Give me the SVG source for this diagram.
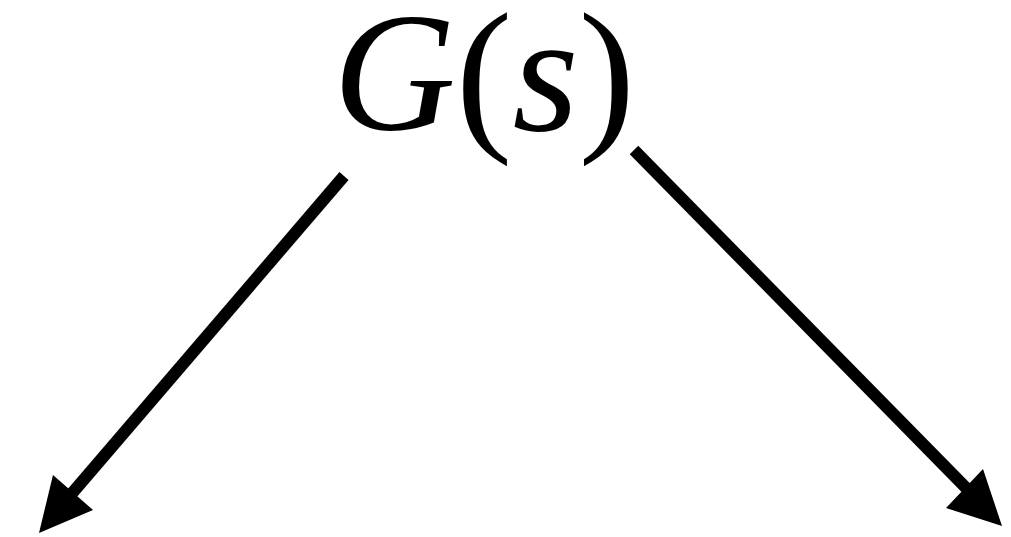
<svg xmlns="http://www.w3.org/2000/svg" width="1011" height="537" viewBox="0 0 1011 537">
<style>
.edge{stroke:#000;stroke-width:12;fill:none}
.head{fill:#000}
</style>
<rect width="1011" height="537" fill="#fff"/>
<g id="node-G">
<text x="333" y="130" font-family="Times New Roman, Liberation Serif, serif" font-size="170" fill="#000" xml:lang="en"><tspan font-style="italic">G</tspan>(<tspan font-style="italic">s</tspan>)</text>
</g>
<g id="connectors">
<line class="edge" x1="344" y1="176" x2="68" y2="498"/>
<polygon class="head" points="39,533 53,475 93,510"/>
<line class="edge" x1="634" y1="150" x2="975" y2="497"/>
<polygon class="head" points="1002,526 983,469 946,508"/>
</g>
</svg>
